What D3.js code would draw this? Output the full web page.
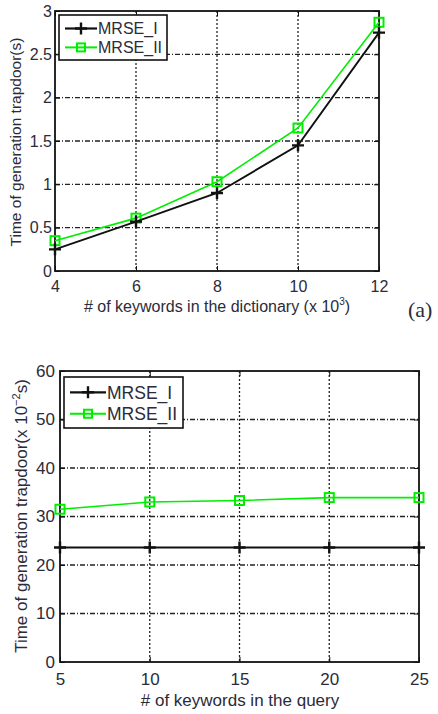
<!DOCTYPE html>
<html>
<head>
<meta charset="utf-8">
<script src="https://cdn.jsdelivr.net/npm/d3@7"></script>
<style>
  body { margin: 0; background: #fff; }
  text { font-family: "Liberation Sans", Arial, sans-serif; fill: #2b2b3a; }
</style>
</head>
<body>
<div id="chart"></div>
<script>
// panel (a): trapdoor time vs dictionary size
const dictSizes = [4, 6, 8, 10, 12];
const dictMrse1 = [0.25, 0.57, 0.90, 1.45, 2.75];
const dictMrse2 = [0.35, 0.61, 1.03, 1.65, 2.87];
const dictYTicks = [0, 0.5, 1, 1.5, 2, 2.5, 3];

// panel (b): trapdoor time vs keywords in the query
const querySizes = [5, 10, 15, 20, 25];
const queryMrse1 = [23.6, 23.6, 23.6, 23.6, 23.6];
const queryMrse2 = [31.5, 33.0, 33.3, 33.9, 33.9];
const queryYTicks = [0, 10, 20, 30, 40, 50, 60];

const seriesNames = ["MRSE_I", "MRSE_II"];

const svg = d3.select("#chart").append("svg")
    .attr("width", 438).attr("height", 714);

function drawPanel(p) {
    const x = d3.scaleLinear().domain(p.xDomain).range([p.left, p.right]);
    const y = d3.scaleLinear().domain(p.yDomain).range([p.bottom, p.top]);
    const g = svg.append("g");

    // dotted grid
    g.selectAll(".vgrid").data(p.xTicks.slice(1, -1)).enter().append("line")
        .attr("x1", d => x(d)).attr("x2", d => x(d))
        .attr("y1", p.top).attr("y2", p.bottom)
        .attr("stroke", "#222").attr("stroke-width", 1.3)
        .attr("stroke-dasharray", "2,2");
    g.selectAll(".hgrid").data(p.yTicks.slice(1, -1)).enter().append("line")
        .attr("x1", p.left).attr("x2", p.right)
        .attr("y1", d => y(d)).attr("y2", d => y(d))
        .attr("stroke", "#222").attr("stroke-width", 1.3)
        .attr("stroke-dasharray", "5,2,1,2");

    // axes (ticks pointing inward, matlab style)
    const fmt = d => String(d);
    g.append("g").attr("transform", `translate(0,${p.bottom})`)
        .call(d3.axisBottom(x).tickValues(p.xTicks).tickSize(-5).tickPadding(p.xPad).tickFormat(fmt))
        .call(a => a.select(".domain").remove());
    g.append("g").attr("transform", `translate(0,${p.top})`)
        .call(d3.axisTop(x).tickValues(p.xTicks).tickSize(-5).tickFormat(""))
        .call(a => a.select(".domain").remove());
    g.append("g").attr("transform", `translate(${p.left},0)`)
        .call(d3.axisLeft(y).tickValues(p.yTicks).tickSize(-5).tickPadding(p.yPad).tickFormat(fmt))
        .call(a => a.select(".domain").remove());
    g.append("g").attr("transform", `translate(${p.right},0)`)
        .call(d3.axisRight(y).tickValues(p.yTicks).tickSize(-5).tickFormat(""))
        .call(a => a.select(".domain").remove());
    g.selectAll(".tick text").attr("font-size", p.tickSize).attr("fill", "#2b2b3a");
    g.selectAll(".tick line").attr("stroke", "#111");

    g.append("rect")
        .attr("x", p.left).attr("y", p.top)
        .attr("width", p.right - p.left).attr("height", p.bottom - p.top)
        .attr("fill", "none").attr("stroke", "#111").attr("stroke-width", 1.8);

    const line = d3.line().x(d => x(d[0])).y(d => y(d[1]));
    const s1 = p.xs.map((v, i) => [v, p.s1[i]]);
    const s2 = p.xs.map((v, i) => [v, p.s2[i]]);

    g.append("path").datum(s2).attr("d", line)
        .attr("fill", "none").attr("stroke", "#00ee00").attr("stroke-width", 1.6);
    g.selectAll(".sq").data(s2).enter().append("rect")
        .attr("x", d => x(d[0]) - 4.5).attr("y", d => y(d[1]) - 4.5)
        .attr("width", 9).attr("height", 9)
        .attr("fill", "none").attr("stroke", "#00ee00").attr("stroke-width", 2);

    g.append("path").datum(s1).attr("d", line)
        .attr("fill", "none").attr("stroke", "#111").attr("stroke-width", 1.9);
    g.selectAll(".plus").data(s1).enter().append("path")
        .attr("d", d => `M${x(d[0]) - 6},${y(d[1])}h12M${x(d[0])},${y(d[1]) - 6}v12`)
        .attr("stroke", "#111").attr("stroke-width", 2.4);

    // legend
    const lg = p.legend;
    g.append("rect").attr("x", lg.x).attr("y", lg.y)
        .attr("width", lg.w).attr("height", lg.h)
        .attr("fill", "#fff").attr("stroke", "#111").attr("stroke-width", 1.6);
    const rowY = [lg.y + lg.h * 0.3, lg.y + lg.h * 0.72];
    const lx0 = lg.x + 6, lx1 = lg.x + lg.lineW, lxm = (lx0 + lx1) / 2;
    g.append("line").attr("x1", lx0).attr("x2", lx1).attr("y1", rowY[0]).attr("y2", rowY[0])
        .attr("stroke", "#111").attr("stroke-width", 2.2);
    g.append("path").attr("d", `M${lxm - 6},${rowY[0]}h12M${lxm},${rowY[0] - 6}v12`)
        .attr("stroke", "#111").attr("stroke-width", 2.4);
    g.append("line").attr("x1", lx0).attr("x2", lx1).attr("y1", rowY[1]).attr("y2", rowY[1])
        .attr("stroke", "#00ee00").attr("stroke-width", 2);
    g.append("rect").attr("x", lxm - 4).attr("y", rowY[1] - 4).attr("width", 8).attr("height", 8)
        .attr("fill", "none").attr("stroke", "#00ee00").attr("stroke-width", 2);
    g.selectAll(".lgtext").data(seriesNames).enter().append("text")
        .attr("x", lx1 + 1).attr("y", (d, i) => rowY[i] + p.legendSize * 0.36)
        .attr("font-size", p.legendSize).text(d => d);

    // axis labels
    g.append("text").attr("x", p.xLabelX).attr("y", p.xLabelY)
        .attr("text-anchor", "middle").attr("font-size", p.xLabelSize)
        .call(p.xLabel);
    g.append("text")
        .attr("transform", `translate(${p.yLabelX},${p.yLabelY}) rotate(-90)`)
        .attr("text-anchor", "middle").attr("font-size", p.yLabelSize)
        .call(p.yLabel);
}

drawPanel({
    xDomain: [4, 12], yDomain: [0, 3],
    left: 55, right: 379, top: 11, bottom: 271,
    xs: dictSizes, s1: dictMrse1, s2: dictMrse2,
    xTicks: dictSizes, yTicks: dictYTicks,
    tickSize: 16, xPad: 10, yPad: 3,
    legend: { x: 59, y: 15, w: 108, h: 45, lineW: 38 },
    legendSize: 16,
    xLabelSize: 16, xLabelX: 217, xLabelY: 312,
    xLabel: t => {
        t.append("tspan").text("# of keywords in the dictionary (x 10");
        t.append("tspan").attr("dy", -7).attr("font-size", 10).text("3");
        t.append("tspan").attr("dy", 7).text(")");
    },
    yLabelSize: 15.5, yLabelX: 21, yLabelY: 142,
    yLabel: t => t.text("Time of generation trapdoor(s)")
});

drawPanel({
    xDomain: [5, 25], yDomain: [0, 60],
    left: 60, right: 419, top: 371, bottom: 662,
    xs: querySizes, s1: queryMrse1, s2: queryMrse2,
    xTicks: querySizes, yTicks: queryYTicks,
    tickSize: 17, xPad: 11, yPad: 5,
    legend: { x: 64, y: 377, w: 119, h: 51, lineW: 42 },
    legendSize: 17.5,
    xLabelSize: 17, xLabelX: 240, xLabelY: 706,
    xLabel: t => t.text("# of keywords in the query"),
    yLabelSize: 17, yLabelX: 27, yLabelY: 516,
    yLabel: t => {
        t.append("tspan").text("Time of generation trapdoor(x 10");
        t.append("tspan").attr("dy", -7).attr("font-size", 11).text("\u22122");
        t.append("tspan").attr("dy", 7).text("s)");
    }
});

svg.append("text").attr("x", 408).attr("y", 317)
    .attr("font-size", 22).style("font-family", "Liberation Serif, Times New Roman, serif")
    .attr("fill", "#111").text("(a)");
</script>
</body>
</html>
